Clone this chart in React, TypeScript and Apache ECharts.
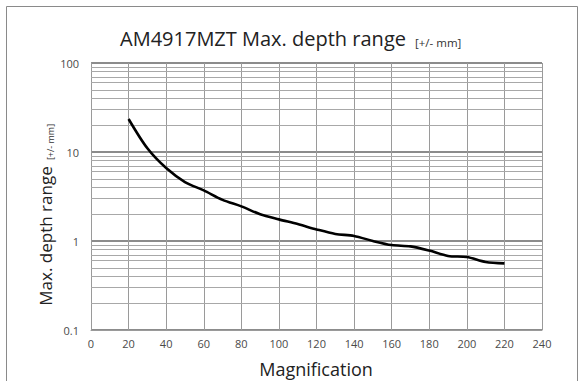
import React, { useEffect, useRef } from "react";
import * as echarts from "echarts";

const magnification = [20, 30, 40, 50, 60, 70, 80, 90, 100, 110, 120, 130, 140, 150, 160, 170, 180, 190, 200, 210, 220];
const depthRange = [23.5, 11, 6.6, 4.6, 3.7, 2.9, 2.45, 2.0, 1.75, 1.55, 1.35, 1.2, 1.14, 1.0, 0.9, 0.87, 0.78, 0.68, 0.66, 0.58, 0.56];
const minorGridValues = [
  0.2, 0.3, 0.4, 0.5, 0.6, 0.7, 0.8, 0.9,
  2, 3, 4, 5, 6, 7, 8, 9,
  20, 30, 40, 50, 60, 70, 80, 90,
];
const titleMain = "AM4917MZT Max. depth range";
const titleSub = "[+/- mm]";
const yNameMain = "Max. depth range";
const yNameSub = "[+/- mm]";
const xName = "Magnification";

const FONT = "'Open Sans', 'Noto Sans', sans-serif";

export default function App() {
  const ref = useRef<HTMLDivElement>(null);
  useEffect(() => {
    document.body.style.margin = "0";
    const chart = echarts.init(ref.current!, null, { renderer: "svg" });
    chart.setOption({
      animation: false,
      backgroundColor: "#ffffff",
      grid: { left: 91, right: 37, top: 63, bottom: 51, containLabel: false },
      xAxis: {
        type: "value",
        min: 0,
        max: 240,
        interval: 20,
        axisLine: { show: true, onZero: false, lineStyle: { color: "#9a9a9a", width: 1 } },
        axisTick: { show: false },
        axisLabel: { color: "#4a4a4a", fontSize: 11, fontFamily: FONT, margin: 8 },
        splitLine: { show: true, lineStyle: { color: "#9a9a9a", width: 1 } },
      },
      yAxis: {
        type: "log",
        logBase: 10,
        min: 0.1,
        max: 100,
        axisLine: { show: true, lineStyle: { color: "#9a9a9a", width: 1 } },
        axisTick: { show: false },
        axisLabel: {
          color: "#4a4a4a",
          fontSize: 11,
          fontFamily: FONT,
          margin: 12,
          formatter: (v: number) => (v < 1 ? String(Math.round(v * 10) / 10) : String(Math.round(v))),
        },
        splitLine: { show: true, lineStyle: { color: "#666666", width: 1.6 } },
        minorSplitLine: { show: false },
      },
      graphic: [
        {
          type: "rect",
          shape: { x: 6.5, y: 6.5, width: 571, height: 390 },
          style: { fill: "none", stroke: "#8a8a8a", lineWidth: 1 },
          silent: true,
          z: -1,
        },
        {
          type: "text",
          x: 120,
          y: 38,
          style: {
            text: titleMain,
            fontSize: 20,
            fontFamily: FONT,
            fill: "#222222",
            verticalAlign: "middle",
          },
        },
        {
          type: "text",
          x: 415,
          y: 42,
          style: {
            text: titleSub,
            fontSize: 11.5,
            fontFamily: FONT,
            fill: "#333333",
            verticalAlign: "middle",
          },
        },
        {
          type: "text",
          x: 45,
          y: 236,
          rotation: Math.PI / 2,
          style: {
            text: yNameMain,
            fontSize: 17,
            fontFamily: FONT,
            fill: "#222222",
            align: "center",
            verticalAlign: "middle",
          },
        },
        {
          type: "text",
          x: 50,
          y: 142,
          rotation: Math.PI / 2,
          style: {
            text: yNameSub,
            fontSize: 9,
            fontFamily: FONT,
            fill: "#333333",
            align: "center",
            verticalAlign: "middle",
          },
        },
        {
          type: "text",
          x: 316,
          y: 369,
          style: {
            text: xName,
            fontSize: 18,
            fontFamily: FONT,
            fill: "#222222",
            align: "center",
            verticalAlign: "middle",
          },
        },
      ],
      series: [
        {
          type: "line",
          data: magnification.map((m, i) => [m, depthRange[i]]),
          smooth: 0.3,
          showSymbol: false,
          symbol: "none",
          lineStyle: { color: "#000000", width: 2.6 },
          z: 5,
          markLine: {
            silent: true,
            symbol: "none",
            label: { show: false },
            lineStyle: { color: "#a8a8a8", width: 1, type: "solid" },
            data: minorGridValues.map((v) => ({ yAxis: v })),
            z: 1,
          },
        },
      ],
    });
    return () => chart.dispose();
  }, []);
  return <div ref={ref} style={{ width: 579, height: 381 }} />;
}
